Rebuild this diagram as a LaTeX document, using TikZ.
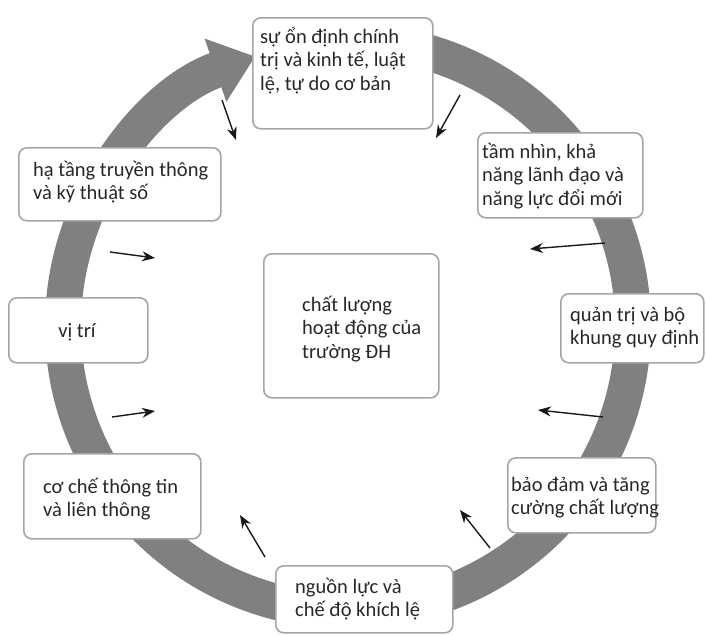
\documentclass[tikz,border=0pt]{standalone}
\usepackage{fontspec}
\setmainfont{Carlito}
\usetikzlibrary{arrows.meta}
\definecolor{ringgray}{RGB}{128,128,128}
\definecolor{boxgray}{RGB}{165,165,165}
\definecolor{txtgray}{RGB}{40,40,40}
\begin{document}
\begin{tikzpicture}[x=1pt,y=-1pt,
  box/.style={draw=boxgray, line width=1.6pt, rounded corners=8pt, fill=white, inner sep=0pt, anchor=north west},
  txt/.style={anchor=base west, inner sep=0pt, align=left, font=\fontsize{20.5}{23.8}\selectfont, text=txtgray},
  ptr/.style={line width=1.4pt, black!90, -{Stealth[length=13pt,width=10pt]}}]
\useasboundingbox (0,0) rectangle (706,635);
\coordinate (c) at (348,326);
% ring
\draw[ringgray, line width=36pt, -{Triangle[length=42pt,width=64pt]}]
  (c) ++(-80:285) arc[start angle=-80, end angle=251, radius=285];
% boxes
\node[box, minimum width=180pt, minimum height=111pt] (b1) at (252,17) {};
\node[box, minimum width=165pt, minimum height=85pt] (b2) at (477,132) {};
\node[box, minimum width=143pt, minimum height=69pt] (b3) at (560,293) {};
\node[box, minimum width=148pt, minimum height=75pt] (b4) at (507,457) {};
\node[box, minimum width=177pt, minimum height=67pt] (b5) at (275,565) {};
\node[box, minimum width=177pt, minimum height=85pt] (b6) at (23,453) {};
\node[box, minimum width=139pt, minimum height=65pt] (b7) at (8,297) {};
\node[box, minimum width=202pt, minimum height=73pt] (b8) at (18,147) {};
\node[box, minimum width=175pt, minimum height=144pt] (b9) at (263,253) {};
% texts (anchor = baseline of the last line)
\node[txt] (t1) at (260,90.6) {sự ổn định chính\\trị và kinh tế, luật\\lệ, tự do cơ bản};
\node[txt] (t2) at (482,205.6) {tầm nhìn, khả\\năng lãnh đạo và\\năng lực đổi mới};
\node[txt] (t3) at (570,344.8) {quản trị và bộ\\khung quy định};
\node[txt] (t4) at (511,514.8) {bảo đảm và tăng\\cường chất lượng};
\node[txt] (t5) at (295,616.8) {nguồn lực và\\chế độ khích lệ};
\node[txt] (t6) at (43,516.8) {cơ chế thông tin\\và liên thông};
\node[txt, anchor=base] (t7) at (77,337) {vị trí};
\node[txt] (t8) at (33,199.8) {hạ tầng truyền thông\\và kỹ thuật số};
\node[txt] (t9) at (302,358.6) {chất lượng\\hoạt động của\\trường ĐH};
% inward arrows
\coordinate (s1) at (222,100); \coordinate (e1) at (236,140);
\coordinate (s2) at (460,95);  \coordinate (e2) at (436,138);
\coordinate (s3) at (605,243); \coordinate (e3) at (530,249);
\coordinate (s4) at (603,417); \coordinate (e4) at (538,410);
\coordinate (s5) at (490,548); \coordinate (e5) at (460,510);
\coordinate (s6) at (265,557); \coordinate (e6) at (240,515);
\coordinate (s7) at (110,252); \coordinate (e7) at (155,258);
\coordinate (s8) at (112,417); \coordinate (e8) at (155,411);
\foreach \i in {1,...,8} { \draw[ptr] (s\i) -- (e\i); }
\end{tikzpicture}
\end{document}
